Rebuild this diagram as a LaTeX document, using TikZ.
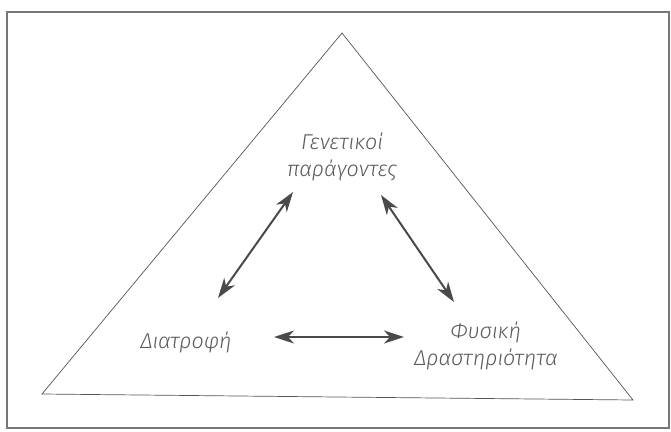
\documentclass[tikz,border=0pt]{standalone}
\usepackage{fontspec}
\setmainfont{Fira Sans Light}
\usetikzlibrary{arrows.meta}
\definecolor{txt}{HTML}{5A5A5A}
\definecolor{arr}{HTML}{4A4A4A}
\definecolor{edge}{HTML}{555555}
\begin{document}
\begin{tikzpicture}[x=1pt,y=-1pt,
  lbl/.style={font=\fontsize{21.5}{27}\selectfont\itshape, text=txt, align=center, inner sep=0pt},
  dbl/.style={draw=arr, line width=2pt, {Stealth[length=20pt,width=13pt,inset=6pt]}-{Stealth[length=20pt,width=13pt,inset=6pt]}},
  thin/.style={draw=edge, line width=0.7pt, line join=miter}]
\useasboundingbox (0,0) rectangle (671,431);
\fill[white] (0,0) rectangle (671,431);
\draw[draw=edge!80, line width=1.2pt] (7,12) rectangle (669,428);
\coordinate (apex) at (342,33);
\coordinate (bl) at (42,394);
\coordinate (br) at (633,400);
\draw[thin] (apex) -- (bl) -- (br) -- cycle;
\node[lbl] (gen) at (342,157) {Γενετικοί\\παράγοντες};
\node[lbl] (diat) at (186,342) {Διατροφή};
\node[lbl] (fys) at (486,346) {Φυσική\\Δραστηριότητα};
\coordinate (g1) at (293,192);
\coordinate (d1) at (218,298);
\coordinate (g2) at (381,195);
\coordinate (f1) at (454,302);
\coordinate (d2) at (274,337);
\coordinate (f2) at (404,337);
\draw[dbl] (g1) -- (d1);
\draw[dbl] (g2) -- (f1);
\draw[dbl] (d2) -- (f2);
\end{tikzpicture}
\end{document}
